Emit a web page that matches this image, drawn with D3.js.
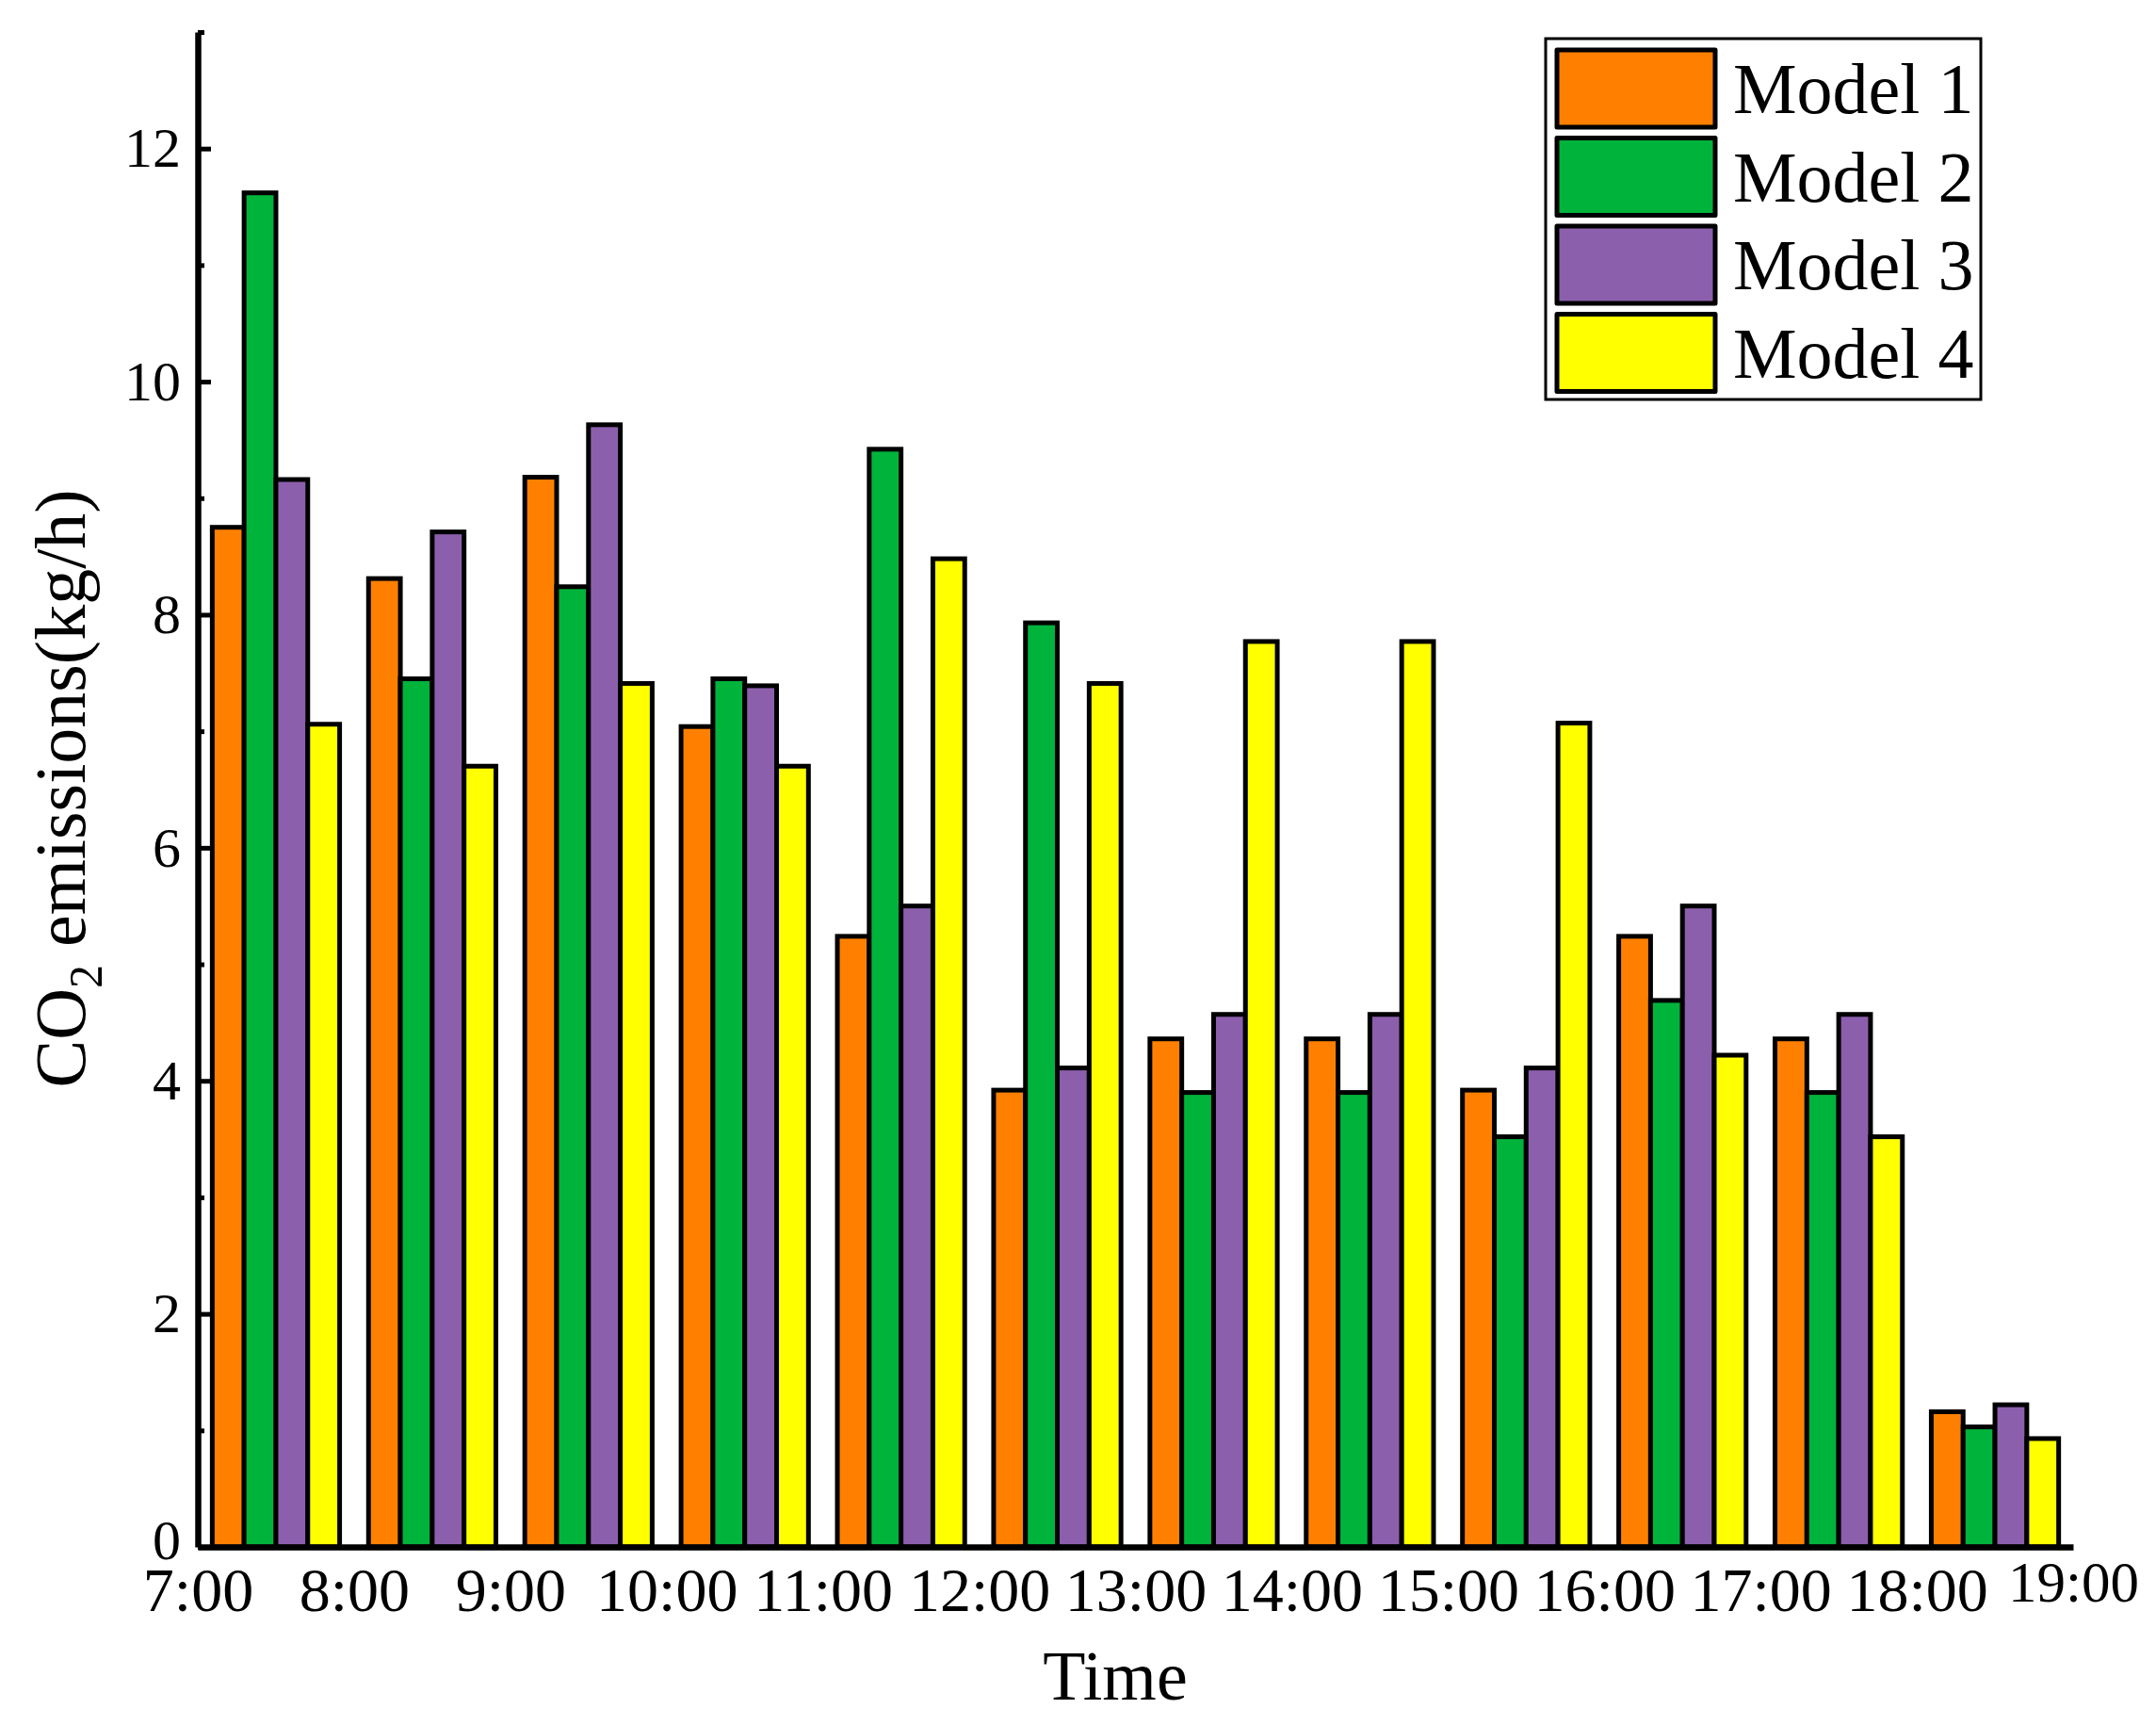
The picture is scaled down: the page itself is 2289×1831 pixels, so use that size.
<!DOCTYPE html>
<html>
<head>
<meta charset="utf-8">
<title>CO2 emissions by model</title>
<script src="https://d3js.org/d3.v7.min.js"></script>
<style>
  body { margin: 0; background: #fff; }
  text { font-family: "Liberation Serif", "Times New Roman", serif; fill: #000; }
</style>
</head>
<body>
<div id="chart"></div>
<script>
// data
var hours = [7, 8, 9, 10, 11, 12, 13, 14, 15, 16, 17, 18];
var axisHours = [7, 8, 9, 10, 11, 12, 13, 14, 15, 16, 17, 18, 19];
var models = ["Model 1", "Model 2", "Model 3", "Model 4"];
var model1 = [8.75, 8.31, 9.18, 7.04, 5.24, 3.92, 4.36, 4.36, 3.92, 5.24, 4.36, 1.16];
var model2 = [11.62, 7.45, 8.24, 7.45, 9.42, 7.93, 3.90, 3.90, 3.52, 4.69, 3.90, 1.03];
var model3 = [9.16, 8.71, 9.63, 7.39, 5.50, 4.11, 4.57, 4.57, 4.11, 5.50, 4.57, 1.22];
var model4 = [7.06, 6.70, 7.41, 6.70, 8.48, 7.41, 7.77, 7.77, 7.07, 4.22, 3.52, 0.93];
var majorTicks = [0, 2, 4, 6, 8, 10, 12];
var minorTicks = [1, 3, 5, 7, 9, 11, 13];

var series = [model1, model2, model3, model4];
var colors = ["#FF8000", "#00B33B", "#8C5FAD", "#FFFF00"];

var W = 2289, H = 1831;
var margin = {left: 210, right: 2201, top: 34, bottom: 1642};

var svg = d3.select("#chart").append("svg")
    .attr("width", W)
    .attr("height", H);

svg.append("rect").attr("width", W).attr("height", H).attr("fill", "#fff");

// scales
var xLin = d3.scaleLinear().domain([7, 19]).range([margin.left, margin.right]);
var xBand = d3.scaleBand().domain(hours).range([margin.left, margin.right])
    .paddingInner(0.185).paddingOuter(0.0925);
var xSub = d3.scaleBand().domain(d3.range(models.length)).range([0, xBand.bandwidth()]);
var y = d3.scaleLinear().domain([0, 13]).range([margin.bottom, margin.top]);

// bars
var groups = svg.append("g").selectAll("g")
    .data(hours)
    .enter().append("g")
    .attr("transform", function(d) { return "translate(" + xBand(d) + ",0)"; });

groups.selectAll("rect")
    .data(function(d, i) { return series.map(function(s, k) { return {k: k, v: s[i]}; }); })
    .enter().append("rect")
    .attr("x", function(d) { return xSub(d.k); })
    .attr("y", function(d) { return y(d.v); })
    .attr("width", xSub.bandwidth())
    .attr("height", function(d) { return y(0) - y(d.v); })
    .attr("fill", function(d) { return colors[d.k]; })
    .attr("stroke", "#000")
    .attr("stroke-width", 5);

// y axis, ticks inside
var yAxis = svg.append("g")
    .attr("transform", "translate(" + margin.left + ",0)")
    .call(d3.axisLeft(y).tickValues(majorTicks).tickSizeInner(-14).tickSizeOuter(0).tickPadding(18));
yAxis.select(".domain").attr("stroke-width", 6.5);
yAxis.selectAll(".tick line").attr("stroke-width", 5);
yAxis.selectAll(".tick text")
    .attr("font-family", "Liberation Serif, serif")
    .attr("font-size", 60);
yAxis.selectAll(".tick text")
    .filter(function(d) { return d === 0; })
    .attr("dy", "0.2em");

var yMinor = svg.append("g")
    .attr("transform", "translate(" + margin.left + ",0)")
    .call(d3.axisLeft(y).tickValues(minorTicks).tickSizeInner(-7).tickSizeOuter(0).tickFormat(""));
yMinor.select(".domain").remove();
yMinor.selectAll(".tick line").attr("stroke-width", 5);

// x axis, no tick marks
var xAxis = svg.append("g")
    .attr("transform", "translate(0," + margin.bottom + ")")
    .call(d3.axisBottom(xLin).tickValues(axisHours).tickSize(0).tickPadding(21)
      .tickFormat(function(d) { return d + ":00"; }));
xAxis.select(".domain").attr("stroke-width", 6.5);
xAxis.selectAll(".tick text")
    .attr("font-family", "Liberation Serif, serif")
    .attr("font-size", 66);
xAxis.selectAll(".tick text")
    .filter(function(d) { return d === 19; })
    .attr("font-size", 61)
    .attr("y", 15);

// axis titles
svg.append("text")
    .attr("x", 1184)
    .attr("y", 1804)
    .attr("text-anchor", "middle")
    .attr("font-size", 74)
    .text("Time");

var yt = svg.append("text")
    .attr("transform", "translate(90,837) rotate(-90)")
    .attr("text-anchor", "middle")
    .attr("font-size", 76);
yt.append("tspan").text("CO");
yt.append("tspan").attr("font-size", 50).attr("dy", 18).text("2");
yt.append("tspan").attr("dy", -18).text(" emissions(kg/h)");

// legend
var legend = svg.append("g");
legend.append("rect")
    .attr("x", 1641).attr("y", 41)
    .attr("width", 462).attr("height", 383)
    .attr("fill", "#fff")
    .attr("stroke", "#000")
    .attr("stroke-width", 3);

var rows = legend.selectAll("g.row")
    .data(models)
    .enter().append("g")
    .attr("class", "row")
    .attr("transform", function(d, i) { return "translate(0," + (94 + i * 93.5) + ")"; });

rows.append("rect")
    .attr("x", 1653).attr("y", -41)
    .attr("width", 168).attr("height", 82)
    .attr("fill", function(d, i) { return colors[i]; })
    .attr("stroke", "#000")
    .attr("stroke-width", 5)
    .attr("stroke-linejoin", "round");

rows.append("text")
    .attr("x", 1840)
    .attr("y", 26)
    .attr("font-size", 76)
    .text(function(d) { return d; });
</script>
</body>
</html>
